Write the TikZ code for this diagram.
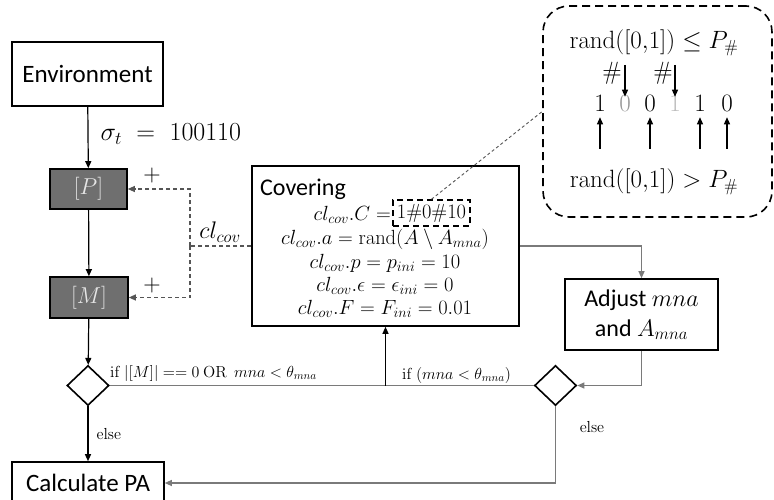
\documentclass[tikz,border=0pt]{standalone}
\usepackage{fix-cm}
\usepackage[no-math]{fontspec}
\setmainfont{Carlito}
\usetikzlibrary{shapes.geometric,arrows.meta}
\definecolor{boxgray}{HTML}{6F6F6F}
\definecolor{boxtext}{HTML}{E6E6E6}
\definecolor{linegray}{HTML}{7A7A7A}
\definecolor{dashgray}{HTML}{555555}
\definecolor{digA}{HTML}{999999}
\definecolor{digB}{HTML}{BBBBBB}
\begin{document}
\begin{tikzpicture}[x=1pt,y=-1pt,
  box/.style={draw, line width=1.6pt, inner sep=0pt},
  dbox/.style={box, fill=boxgray, text=boxtext},
  dia/.style={draw, diamond, line width=1.6pt, minimum width=42pt, minimum height=40pt, inner sep=0pt},
  tip/.style={-{Triangle[length=7pt,width=6pt]}},
  mainline/.style={line width=1.2pt, tip},
  grayline/.style={line width=1.1pt, draw=linegray},
  dashline/.style={line width=1.1pt, draw=dashgray, dash pattern=on 4pt off 3pt},
  bigtxt/.style={font=\fontsize{25}{30}\selectfont},
  mathtxt/.style={font=\fontsize{20.5}{24}\selectfont, inner sep=0pt},
  smalltxt/.style={font=\fontsize{16}{19}\selectfont, inner sep=0pt},
  calltxt/.style={font=\fontsize{25}{29}\selectfont, inner sep=0pt}
]
\useasboundingbox (0,0) rectangle (774,500);

% main boxes
\node[box, minimum width=151pt, minimum height=64pt, bigtxt] (env) at (87.5,74) {Environment};
\node[dbox, minimum width=77pt, minimum height=40pt, font=\fontsize{23}{27}\selectfont] (P) at (88.5,189) {$[P]$};
\node[dbox, minimum width=78pt, minimum height=41pt, font=\fontsize{23}{27}\selectfont] (M) at (89,297.5) {$[M]$};
\node[box, minimum width=267pt, minimum height=160pt] (cov) at (385.5,246) {};
\node[box, minimum width=153pt, minimum height=71pt, align=center, font=\fontsize{24}{30}\selectfont] (adj) at (641.5,314.5) {Adjust $mna$\\and $A_{mna}$};
\node[dia] (d1) at (88,385.5) {};
\node[dia] (d2) at (555.5,385.5) {};
\node[box, minimum width=152pt, minimum height=42pt, bigtxt] (calc) at (88,483) {Calculate PA};

% Covering contents
\node[anchor=west, font=\fontsize{24}{28}\selectfont, inner sep=0pt] (covt) at (260,189) {Covering};
\node[mathtxt, anchor=east] (l1) at (391,215) {$cl_{cov}.C =$};
\node[draw, line width=1.5pt, dash pattern=on 6pt off 4pt, minimum width=77pt, minimum height=26pt, inner sep=0pt, font=\fontsize{20.5}{24}\selectfont] (hash) at (431.5,213) {$1\#0\#10$};
\node[mathtxt] (l2) at (385,239) {$cl_{cov}.a = \mathrm{rand}(A \setminus A_{mna})$};
\node[mathtxt] (l3) at (385,263) {$cl_{cov}.p = p_{ini} = 10$};
\node[mathtxt] (l4) at (385,286) {$cl_{cov}.\epsilon = \epsilon_{ini} = 0$};
\node[mathtxt] (l5) at (385,309) {$cl_{cov}.F = F_{ini} = 0.01$};

% main flow
\draw[mainline] (env) -- node[pos=0.45, anchor=west, inner sep=0pt, xshift=12pt, font=\fontsize{26}{30}\selectfont] (sig) {$\sigma_t\;=\;100110$} (P);
\draw[mainline] (P) -- (M);
\draw[mainline] (M) -- (d1);
\draw[mainline] (d1) -- node[pos=0.5, anchor=west, xshift=8pt, smalltxt] (else1) {$\mathrm{else}$} (calc);

\coordinate (j) at (cov.south |- d1.east);
\draw[grayline] (d1.east) -- (d2.west);
\draw[mainline] (j) -- (cov.south);
\draw[grayline, tip] (cov.east) -| (adj.north);
\draw[grayline, tip] (adj.south) |- (d2.east);
\draw[grayline, tip] (d2.south) |- (calc.east);
\node[smalltxt] (else2) at (592,427) {$\mathrm{else}$};

\node[smalltxt, anchor=west] (c1) at (110,373) {$\mathrm{if}\ |[M]| == 0\ \mathrm{OR}\ \ mna < \theta_{mna}$};
\node[smalltxt, anchor=west] (c2) at (402,375) {$\mathrm{if}\ (mna < \theta_{mna})$};

% dashed feedback
\coordinate (dj) at (190,246);
\draw[dashline] (cov.west) -- (dj);
\draw[dashline, tip] (dj) |- (P.east);
\draw[dashline, tip] (dj) |- (M.east);
\node[font=\fontsize{24}{28}\selectfont] (plus1) at (152,176) {$+$};
\node[font=\fontsize{24}{28}\selectfont] (plus2) at (152,285) {$+$};
\node[font=\fontsize{24}{28}\selectfont, inner sep=0pt] (clcov) at (220,232) {$cl_{cov}$};

% callout
\node[draw, line width=1.6pt, dash pattern=on 8pt off 5pt, rounded corners=26pt, minimum width=229pt, minimum height=211pt] (callout) at (657.5,111.5) {};
\draw[line width=0.9pt, draw=dashgray, dash pattern=on 3pt off 2.5pt] (hash.north) -- (callout.west);
\node[calltxt] (r1) at (654,43) {$\mathrm{rand}([0{,}1]) \leq P_{\#}$};
\node[calltxt] (r2) at (654,182) {$\mathrm{rand}([0{,}1]) > P_{\#}$};
\node[calltxt] (b1) at (600,103) {$1$};
\node[calltxt, text=digA] (b2) at (625,103) {$0$};
\node[calltxt] (b3) at (650,103) {$0$};
\node[calltxt, text=digB] (b4) at (675,103) {$1$};
\node[calltxt] (b5) at (700,103) {$1$};
\node[calltxt] (b6) at (727,103) {$0$};
\node[calltxt] (h1) at (612,73) {$\#$};
\node[calltxt] (h2) at (663,73) {$\#$};
\coordinate (s1) at (625,65);
\coordinate (s2) at (675,65);
\draw[line width=1.2pt, -{Triangle[length=7pt,width=6pt]}] (s1) -- ([yshift=-2pt]b2.north);
\draw[line width=1.2pt, -{Triangle[length=7pt,width=6pt]}] (s2) -- ([yshift=-2pt]b4.north);
\coordinate (u1) at (600,149);
\coordinate (u3) at (650,149);
\coordinate (u5) at (700,149);
\coordinate (u6) at (727,149);
\draw[line width=1.2pt, -{Triangle[length=7pt,width=6pt]}] (u1) -- ([yshift=-6pt]b1.south);
\draw[line width=1.2pt, -{Triangle[length=7pt,width=6pt]}] (u3) -- ([yshift=-6pt]b3.south);
\draw[line width=1.2pt, -{Triangle[length=7pt,width=6pt]}] (u5) -- ([yshift=-6pt]b5.south);
\draw[line width=1.2pt, -{Triangle[length=7pt,width=6pt]}] (u6) -- ([yshift=-6pt]b6.south);
\end{tikzpicture}
\end{document}
